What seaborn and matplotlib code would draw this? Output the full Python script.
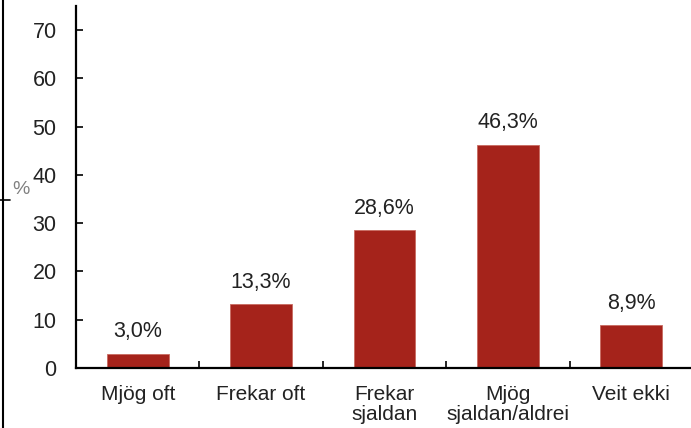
import matplotlib
matplotlib.use("Agg")
import matplotlib.pyplot as plt
import matplotlib.lines as mlines
import seaborn as sns
import pandas as pd
import numpy as np

# Survey answer categories and share of respondents (%)
categories = ["Mjög oft", "Frekar oft", "Frekar\nsjaldan", "Mjög\nsjaldan/aldrei", "Veit ekki"]
values = [3.0, 13.3, 28.6, 46.3, 8.9]
value_labels = ["3,0%", "13,3%", "28,6%", "46,3%", "8,9%"]
y_ticks = [0, 10, 20, 30, 40, 50, 60, 70]

sns.set_theme(style="white")
plt.rcParams["font.family"] = ["Liberation Sans", "DejaVu Sans"]

df = pd.DataFrame({"svar": categories, "prosent": values})

fig = plt.figure(figsize=(6.91, 4.28), dpi=100)
ax = fig.add_axes([76 / 691, 60 / 428, 617 / 691, 362 / 428])

sns.barplot(data=df, x="svar", y="prosent", color="#A5231B", width=0.5,
            edgecolor="#C86A60", linewidth=0.6, saturation=1, ax=ax)

ax.set_xlim(-0.5, len(categories) - 0.5)
ax.set_ylim(0, 75)
ax.set_yticks(y_ticks)
ax.set_yticklabels([str(t) for t in y_ticks])

# Category boundary ticks pointing into the plot
ax.set_xticks(np.arange(len(categories) + 1) - 0.5, minor=True)
ax.tick_params(axis="x", which="major", length=0, pad=12, labelsize=15, labelcolor="#222222")
ax.tick_params(axis="x", which="minor", direction="in", length=5, width=1.2, color="black", bottom=True)
ax.tick_params(axis="y", which="major", direction="in", length=5, width=1.2, color="black",
               left=True, pad=14, labelsize=15.5, labelcolor="#222222")
for lbl in ax.get_xticklabels():
    lbl.set_linespacing(1.1)

for side in ["top", "right"]:
    ax.spines[side].set_visible(False)
for side in ["left", "bottom"]:
    ax.spines[side].set_color("black")
    ax.spines[side].set_linewidth(1.6)

ax.set_xlabel("")
ax.set_ylabel("")

# Value labels above each bar
for i, (v, lab) in enumerate(zip(values, value_labels)):
    ax.annotate(lab, xy=(i, v), xytext=(0, 8), textcoords="offset points",
                ha="center", va="bottom", fontsize=15.5, color="#222222")

# Unit label to the left of the axis
fig.text(20.5 / 691, 1 - 189 / 428, "%", ha="center", va="center", fontsize=14, color="#808080")

# Thin frame lines at the left edge
fig.add_artist(mlines.Line2D([3 / 691, 3 / 691], [0, 1], color="black", linewidth=1.5,
                             transform=fig.transFigure))
fig.add_artist(mlines.Line2D([0, 10 / 691], [1 - 200 / 428, 1 - 200 / 428], color="black",
                             linewidth=1.2, transform=fig.transFigure))

fig.savefig("out.png", dpi=100)
